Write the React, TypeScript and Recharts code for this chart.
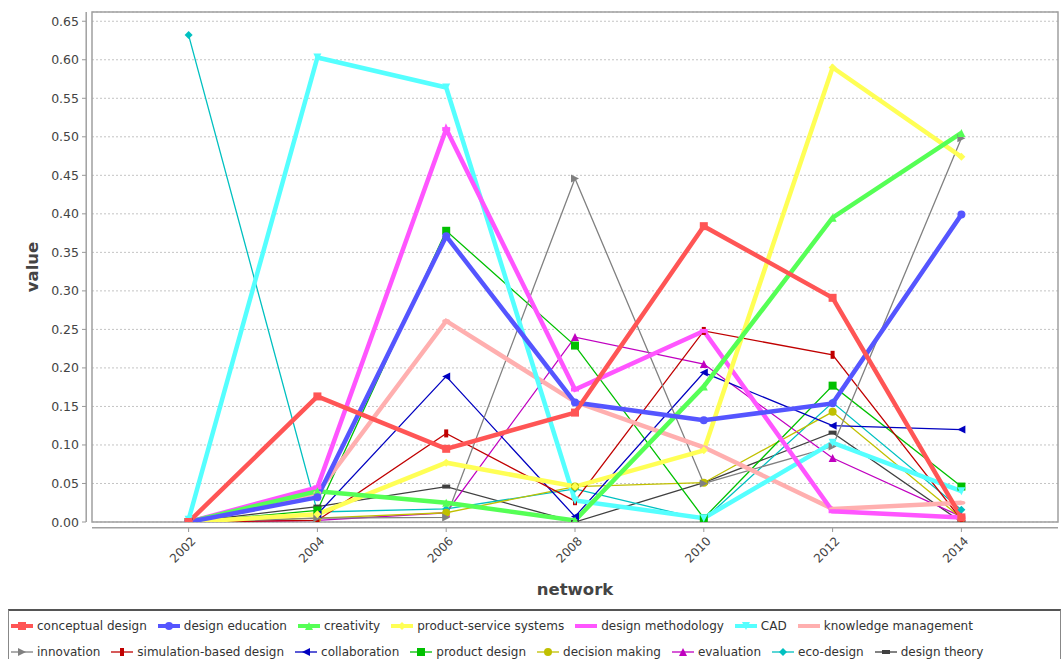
import { CartesianGrid, Line, LineChart, ReferenceArea, ReferenceLine, XAxis, YAxis } from 'recharts'

const years = [2002, 2004, 2006, 2008, 2010, 2012, 2014]
const yTicks = [0, 0.05, 0.1, 0.15, 0.2, 0.25, 0.3, 0.35, 0.4, 0.45, 0.5, 0.55, 0.6, 0.65]

const conceptualDesign = [0, 0.163, 0.095, 0.142, 0.384, 0.291, 0.006]
const designEducation = [0, 0.032, 0.371, 0.155, 0.132, 0.154, 0.399]
const creativity = [0, 0.04, 0.025, 0.002, 0.176, 0.395, 0.505]
const productServiceSystems = [0, 0.01, 0.077, 0.046, 0.093, 0.59, 0.474]
const designMethodology = [0, 0.045, 0.51, 0.172, 0.248, 0.014, 0.006]
const cad = [0.003, 0.603, 0.564, 0.028, 0.005, 0.103, 0.04]
const knowledgeManagement = [0, 0.038, 0.261, 0.156, 0.097, 0.017, 0.025]
const innovation = [0, 0.005, 0.006, 0.446, 0.05, 0.098, 0.498]
const simulationBasedDesign = [0, 0.002, 0.115, 0.027, 0.248, 0.217, 0.003]
const collaboration = [0, 0.01, 0.189, 0.007, 0.194, 0.125, 0.12]
const productDesign = [0, 0.015, 0.378, 0.229, 0.005, 0.177, 0.046]
const decisionMaking = [0, 0.005, 0.012, 0.046, 0.051, 0.143, 0.005]
const evaluation = [0, 0.002, 0.012, 0.24, 0.205, 0.083, 0.007]
const ecoDesign = [0.632, 0.013, 0.017, 0.043, 0.003, 0.155, 0.016]
const designTheory = [0, 0.02, 0.046, 0, 0.051, 0.116, 0]

type Shape =
  | 'square' | 'circle' | 'up' | 'diamond' | 'hrect'
  | 'down' | 'hellipse' | 'right' | 'vrect' | 'left'

type SeriesDef = { key: string; name: string; values: number[]; color: string; width: number; shape: Shape }

const series: SeriesDef[] = [
  { key: 's0', name: 'conceptual design', values: conceptualDesign, color: '#FF5555', width: 4.5, shape: 'square' },
  { key: 's1', name: 'design education', values: designEducation, color: '#5555FF', width: 4.5, shape: 'circle' },
  { key: 's2', name: 'creativity', values: creativity, color: '#55FF55', width: 4.5, shape: 'up' },
  { key: 's3', name: 'product-service systems', values: productServiceSystems, color: '#FFFF55', width: 4.5, shape: 'diamond' },
  { key: 's4', name: 'design methodology', values: designMethodology, color: '#FF55FF', width: 4.5, shape: 'hrect' },
  { key: 's5', name: 'CAD', values: cad, color: '#55FFFF', width: 4.5, shape: 'down' },
  { key: 's6', name: 'knowledge management', values: knowledgeManagement, color: '#FFAFAF', width: 4.5, shape: 'hellipse' },
  { key: 's7', name: 'innovation', values: innovation, color: '#808080', width: 1.3, shape: 'right' },
  { key: 's8', name: 'simulation-based design', values: simulationBasedDesign, color: '#C00000', width: 1.3, shape: 'vrect' },
  { key: 's9', name: 'collaboration', values: collaboration, color: '#0000C0', width: 1.3, shape: 'left' },
  { key: 's10', name: 'product design', values: productDesign, color: '#00C000', width: 1.3, shape: 'square' },
  { key: 's11', name: 'decision making', values: decisionMaking, color: '#C0C000', width: 1.3, shape: 'circle' },
  { key: 's12', name: 'evaluation', values: evaluation, color: '#C000C0', width: 1.3, shape: 'up' },
  { key: 's13', name: 'eco-design', values: ecoDesign, color: '#00C0C0', width: 1.3, shape: 'diamond' },
  { key: 's14', name: 'design theory', values: designTheory, color: '#404040', width: 1.3, shape: 'hrect' },
]

const chartData = years.map((year, i) => {
  const row: Record<string, number> = { year }
  series.forEach((s) => {
    row[s.key] = s.values[i]
  })
  return row
})

const FONT = '"DejaVu Sans", sans-serif'
const TICK_COLOR = '#444'

function Marker({ cx, cy, shape, color, r = 4 }: { cx: number; cy: number; shape: Shape; color: string; r?: number }) {
  const h = r / 2
  switch (shape) {
    case 'square':
      return <rect x={cx - r} y={cy - r} width={r * 2} height={r * 2} fill={color} />
    case 'circle':
      return <circle cx={cx} cy={cy} r={r} fill={color} />
    case 'up':
      return <polygon points={`${cx},${cy - r} ${cx + r},${cy + r} ${cx - r},${cy + r}`} fill={color} />
    case 'down':
      return <polygon points={`${cx - r},${cy - r} ${cx + r},${cy - r} ${cx},${cy + r}`} fill={color} />
    case 'right':
      return <polygon points={`${cx - r},${cy - r} ${cx + r},${cy} ${cx - r},${cy + r}`} fill={color} />
    case 'left':
      return <polygon points={`${cx - r},${cy} ${cx + r},${cy - r} ${cx + r},${cy + r}`} fill={color} />
    case 'diamond':
      return <polygon points={`${cx},${cy - r} ${cx + r},${cy} ${cx},${cy + r} ${cx - r},${cy}`} fill={color} />
    case 'hrect':
      return <rect x={cx - r} y={cy - h} width={r * 2} height={r} fill={color} />
    case 'vrect':
      return <rect x={cx - h} y={cy - r} width={r} height={r * 2} fill={color} />
    case 'hellipse':
      return <ellipse cx={cx} cy={cy} rx={r} ry={h} fill={color} />
  }
}

function XTick({ x, y, payload }: any) {
  return (
    <g>
      <line x1={x} y1={y + 6} x2={x} y2={y + 10} stroke="#999" />
      <text
        transform={`translate(${x + 5},${y + 17}) rotate(-45)`}
        textAnchor="end"
        dominantBaseline="central"
        fontSize={12}
        fontFamily={FONT}
        fill={TICK_COLOR}
      >
        {payload.value}
      </text>
    </g>
  )
}

function YTick({ x, y, payload }: any) {
  return (
    <g>
      <line x1={x - 10} y1={y} x2={x - 6} y2={y} stroke="#999" />
      <text x={x - 13} y={y + 4.5} textAnchor="end" fontSize={12.5} fontFamily={FONT} fill={TICK_COLOR}>
        {Number(payload.value).toFixed(2)}
      </text>
    </g>
  )
}

function LegendItem({ s }: { s: SeriesDef }) {
  return (
    <span style={{ display: 'inline-flex', alignItems: 'center', marginRight: 11 }}>
      <svg width={22} height={12} style={{ marginRight: 4 }}>
        <line x1={0} y1={6} x2={22} y2={6} stroke={s.color} strokeWidth={s.width > 2 ? 4 : 1.3} />
        <Marker cx={11} cy={6} shape={s.shape} color={s.color} />
      </svg>
      <span>{s.name}</span>
    </span>
  )
}

export default function App() {
  const drawOrder = [...series].reverse()
  return (
    <div style={{ position: 'absolute', left: 0, top: 0, width: 1063, height: 659, background: '#fff', fontFamily: FONT, overflow: 'hidden' }}>
      <LineChart width={1063} height={605} data={chartData} margin={{ top: 12, right: 5, bottom: 3, left: 0 }}>
        <CartesianGrid horizontal vertical={false} stroke="#c4c4c4" strokeDasharray="2 2" />
        <XAxis
          dataKey="year"
          type="number"
          domain={[2000.5, 2015.5]}
          ticks={years}
          height={80}
          axisLine={false}
          tickLine={false}
          tickSize={0}
          tickMargin={0}
          tick={<XTick />}
          interval={0}
          label={{ value: 'network', position: 'insideBottom', offset: 7, fontSize: 16.5, fontWeight: 'bold', fontFamily: FONT, fill: '#444' }}
        />
        <YAxis
          type="number"
          domain={[0, 0.662]}
          ticks={yTicks}
          width={92}
          axisLine={false}
          tickLine={false}
          tickSize={0}
          tickMargin={0}
          tick={<YTick />}
          interval={0}
          allowDataOverflow
          label={({ viewBox }: any) => (
            <text
              transform={`translate(${viewBox.x + 38},${viewBox.y + viewBox.height / 2}) rotate(-90)`}
              textAnchor="middle"
              fontSize={16.5}
              fontWeight="bold"
              fontFamily={FONT}
              fill="#444"
            >
              value
            </text>
          )}
        />
        <ReferenceArea x1={2000.5} x2={2015.5} y1={0} y2={0.662} fill="none" stroke="#a0a0a0" strokeWidth={1.5} ifOverflow="visible" />
        <ReferenceLine x={2000.41} stroke="#a0a0a0" strokeWidth={1.5} ifOverflow="visible" />
        <ReferenceLine y={-0.0075} stroke="#a0a0a0" strokeWidth={1.5} ifOverflow="visible" />
        {drawOrder.map((s) => (
          <Line
            key={`line-${s.key}`}
            type="linear"
            dataKey={s.key}
            stroke={s.color}
            strokeWidth={s.width}
            dot={false}
            activeDot={false}
            isAnimationActive={false}
          />
        ))}
        {drawOrder.map((s) => (
          <Line
            key={`dots-${s.key}`}
            type="linear"
            dataKey={s.key}
            stroke="none"
            activeDot={false}
            isAnimationActive={false}
            dot={(p: any) => <Marker key={`${s.key}-${p.index}`} cx={p.cx} cy={p.cy} shape={s.shape} color={s.color} />}
          />
        ))}
      </LineChart>
      <div
        style={{
          position: 'absolute',
          left: 8,
          top: 609,
          width: 1053,
          height: 60,
          boxSizing: 'border-box',
          border: '1px solid #888',
          borderTop: '2px solid #555',
          padding: '2px 0 0 2px',
          fontSize: 12,
          color: '#333',
        }}
      >
        <div style={{ height: 26, display: 'flex', alignItems: 'center' }}>
          {series.slice(0, 7).map((s) => (
            <LegendItem key={s.key} s={s} />
          ))}
        </div>
        <div style={{ height: 26, display: 'flex', alignItems: 'center' }}>
          {series.slice(7).map((s) => (
            <LegendItem key={s.key} s={s} />
          ))}
        </div>
      </div>
    </div>
  )
}
